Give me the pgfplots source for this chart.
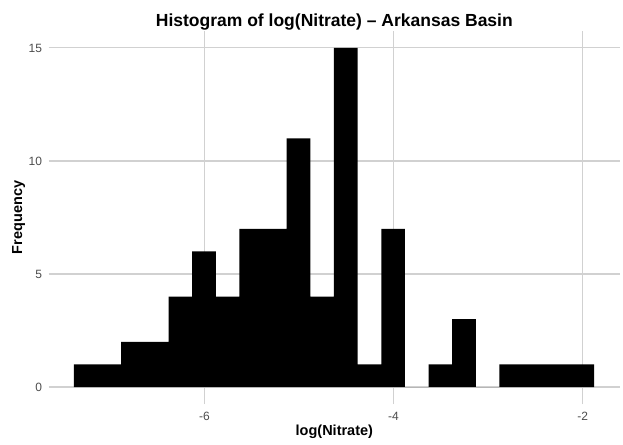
\documentclass[border=0pt]{standalone}
\usepackage{fontspec}
\setmainfont{Liberation Sans}
\usepackage{pgfplots}
\pgfplotsset{compat=1.18}
\definecolor{gridgray}{gray}{0.82}
\definecolor{ticktext}{gray}{0.30}

\begin{document}
\begin{tikzpicture}
\path[use as bounding box] (-48.7pt,-40pt) rectangle (574.3pt,404pt);
\begin{axis}[
  scale only axis,
  width=571.3pt, height=373pt,
  xmin=-7.647, xmax=-1.605,
  ymin=-0.75, ymax=15.75,
  axis line style={draw=none},
  major tick length=0pt,
  xtick={-6,-4,-2}, xticklabels={-6,-4,-2},
  ytick={0,5,10,15}, yticklabels={0,5,10,15},
  grid=major,
  major grid style={gridgray, line width=1.1pt},
  xticklabel style={font=\fontsize{12}{14}\selectfont, text=ticktext, anchor=north, inner sep=0pt, yshift=-8pt},
  yticklabel style={font=\fontsize{12}{14}\selectfont, text=ticktext, anchor=east, inner sep=0pt, xshift=-6.5pt},
  clip=false,
]
% bin counts, bin width 0.25
\addplot[ybar interval, fill=black, draw=none] coordinates {
  (-7.38,1) (-7.13,1) (-6.88,2) (-6.63,2) (-6.38,4) (-6.13,6)
  (-5.88,4) (-5.63,7) (-5.38,7) (-5.13,11) (-4.88,4) (-4.63,15)
  (-4.38,1) (-4.13,7) (-3.88,0) (-3.63,1) (-3.38,3) (-3.13,0)
  (-2.88,1) (-2.63,1) (-2.38,1) (-2.13,1) (-1.88,1)
};
\end{axis}
\node[anchor=base, font=\bfseries\fontsize{17.5}{20}\selectfont] at (285.65pt,377.5pt) {Histogram of log(Nitrate) – Arkansas Basin};
\node[anchor=base, font=\bfseries\fontsize{14.5}{17}\selectfont] at (285.65pt,-31.5pt) {log(Nitrate)};
\node[anchor=base, rotate=90, font=\bfseries\fontsize{14.5}{17}\selectfont] at (-26.5pt,186.5pt) {Frequency};
\end{tikzpicture}
\end{document}
